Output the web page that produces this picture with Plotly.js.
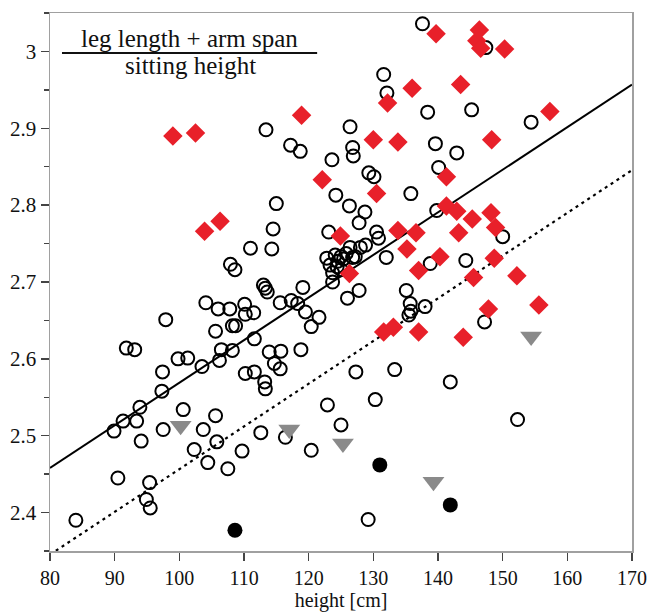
<!DOCTYPE html>
<html>
<head>
<meta charset="utf-8">
<script src="https://cdn.plot.ly/plotly-3.0.1.min.js"></script>
<style>html,body{margin:0;padding:0;background:#fff;}#chart{width:651px;height:612px;}</style>
</head>
<body>
<div id="chart"></div>
<script>
// Open black circles
const openX = [84.0,90.5,89.9,91.3,93.4,93.9,94.1,91.8,93.1,95.4,94.9,95.5,97.3,97.4,97.5,97.9,99.8,101.3,100.6,102.3,103.5,103.7,104.4,105.6,105.8,105.6,106.2,106.5,104.1,106.0,107.8,108.2,108.7,108.2,107.5,109.7,110.1,110.2,111.5,111.6,110.2,111.6,113.2,113.3,112.6,113.9,115.7,114.7,115.6,116.4,118.8,120.4,115.6,117.3,118.3,119.5,120.4,121.6,122.9,
127.3,133.3,141.9,130.3,125.0,152.3,129.2,147.2,126.0,127.8,135.1,135.7,138.0,135.8,135.5,
113.0,113.3,113.6,119.1,123.7,113.4,117.2,118.7,115.0,114.5,111.0,114.3,107.9,108.6,123.6,124.2,123.1,
137.6,147.4,131.6,132.1,138.4,145.2,154.4,126.4,126.8,126.9,139.6,142.9,140.1,129.3,130.1,135.8,126.3,128.7,127.8,139.8,130.5,130.8,150.0,132.0,144.3,138.8,
122.8,123.3,123.7,124.1,124.5,125.0,125.4,125.8,126.4,126.8,127.2,128.0,128.8,124.4,125.0];
const openY = [2.390,2.445,2.506,2.519,2.519,2.537,2.493,2.614,2.612,2.439,2.417,2.406,2.558,2.583,2.508,2.651,2.600,2.601,2.534,2.482,2.590,2.508,2.465,2.526,2.492,2.636,2.598,2.612,2.673,2.665,2.665,2.643,2.643,2.611,2.457,2.480,2.671,2.658,2.660,2.626,2.581,2.583,2.570,2.561,2.504,2.609,2.610,2.594,2.587,2.498,2.612,2.481,2.673,2.676,2.672,2.661,2.642,2.654,2.540,
2.583,2.586,2.570,2.547,2.514,2.521,2.391,2.648,2.679,2.689,2.689,2.672,2.668,2.662,2.657,
2.696,2.692,2.687,2.693,2.700,2.898,2.878,2.870,2.802,2.769,2.744,2.743,2.723,2.716,2.859,2.813,2.765,
3.036,3.005,2.970,2.946,2.921,2.924,2.908,2.902,2.875,2.864,2.880,2.868,2.849,2.842,2.837,2.815,2.799,2.791,2.777,2.793,2.765,2.757,2.759,2.732,2.728,2.724,
2.731,2.722,2.712,2.735,2.727,2.733,2.730,2.737,2.745,2.732,2.733,2.745,2.748,2.720,2.716];

// Red diamonds
const redX = [99.0,102.5,103.9,106.3,118.9,122.1,124.9,126.3,130.0,130.5,131.6,132.2,133.1,133.8,133.8,135.2,136.0,136.6,137.0,137.0,139.7,140.3,141.3,141.3,142.9,143.2,143.5,143.9,145.3,145.5,146.0,146.4,146.6,147.8,148.2,148.3,148.7,148.9,150.3,152.2,155.6,157.3];
const redY = [2.890,2.894,2.766,2.779,2.917,2.833,2.760,2.711,2.885,2.815,2.635,2.933,2.641,2.882,2.767,2.743,2.952,2.764,2.715,2.635,3.023,2.733,2.837,2.799,2.792,2.764,2.957,2.628,2.782,2.706,3.014,3.028,3.004,2.665,2.790,2.885,2.731,2.771,3.003,2.708,2.670,2.922];

// Gray triangles
const triX = [100.2,117.0,125.3,139.3,154.4];
const triY = [2.513,2.508,2.490,2.440,2.629];

// Filled black circles
const dotX = [108.6,131.0,141.9];
const dotY = [2.377,2.462,2.410];

// Fit lines
const fitX = [80,170];
const fitSolidY = [2.458,2.957];
const fitDotY = [2.3453,2.8455];

const yTickVals = [2.4,2.5,2.6,2.7,2.8,2.9,3.0];
const yTickText = ['2.4','2.5','2.6','2.7','2.8','2.9','3'];
const yMinorVals = [2.35,2.45,2.55,2.65,2.75,2.85,2.95,3.05];
const xTickVals = [80,90,100,110,120,130,140,150,160,170];
const xTickText = ['80','90','100','110','120','130','140','150','160','170'];

const FONT = '"Liberation Serif", "Times New Roman", Times, serif';

const traces = [
  {x: fitX, y: fitSolidY, mode: 'lines', line: {color: '#000', width: 2}, hoverinfo: 'skip'},
  {x: fitX, y: fitDotY, mode: 'lines', line: {color: '#000', width: 2.2, dash: '3px,4px'}, hoverinfo: 'skip'},
  {x: openX, y: openY, mode: 'markers', marker: {symbol: 'circle-open', size: 13, color: '#000', line: {width: 2, color: '#000'}}},
  {x: redX, y: redY, mode: 'markers', marker: {symbol: 'diamond', size: 15, color: '#e8202a', line: {width: 0}}},
  {x: triX, y: triY, mode: 'markers', marker: {symbol: 'triangle-down', size: 19, color: '#8a8a8a', line: {width: 0}}},
  {x: dotX, y: dotY, mode: 'markers', marker: {symbol: 'circle', size: 15, color: '#000', line: {width: 0}}}
];

const layout = {
  width: 651, height: 612,
  margin: {l: 50, r: 19, t: 13, b: 61},
  paper_bgcolor: '#fff', plot_bgcolor: '#fff',
  showlegend: false,
  font: {family: FONT, size: 20, color: '#111'},
  xaxis: {
    range: [80,170], showgrid: false, zeroline: false,
    showline: true, mirror: true, linecolor: '#a0a0a0', linewidth: 1.5,
    ticks: 'outside', ticklen: 8, tickwidth: 1.5, tickcolor: '#444',
    tickmode: 'array', tickvals: xTickVals, ticktext: xTickText,
    tickfont: {family: FONT, size: 20, color: '#111'},
    title: {text: 'height [cm]', font: {family: FONT, size: 20, color: '#111'}, standoff: 4}
  },
  yaxis: {
    range: [2.35,3.05], showgrid: false, zeroline: false,
    showline: true, mirror: true, linecolor: '#a0a0a0', linewidth: 1.5,
    ticks: 'outside', ticklen: 8, tickwidth: 1.5, tickcolor: '#444',
    tickmode: 'array', tickvals: yTickVals, ticktext: yTickText,
    tickfont: {family: FONT, size: 21, color: '#111'},
    minor: {tickmode: 'array', tickvals: yMinorVals, ticks: 'outside', ticklen: 5, tickwidth: 1.5, tickcolor: '#444'}
  },
  annotations: [
    {xref: 'paper', yref: 'paper', x: 0.239, y: 0.952, text: 'leg length + arm span', showarrow: false,
     xanchor: 'center', yanchor: 'middle', font: {family: FONT, size: 25, color: '#111'}},
    {xref: 'paper', yref: 'paper', x: 0.242, y: 0.902, text: 'sitting height', showarrow: false,
     xanchor: 'center', yanchor: 'middle', font: {family: FONT, size: 25, color: '#111'}}
  ],
  shapes: [
    {type: 'line', xref: 'paper', yref: 'paper', x0: 0.0206, x1: 0.459, y0: 0.9257, y1: 0.9257,
     line: {color: '#111', width: 2}}
  ]
};

Plotly.newPlot('chart', traces, layout, {displayModeBar: false, staticPlot: true});
</script>
</body>
</html>
